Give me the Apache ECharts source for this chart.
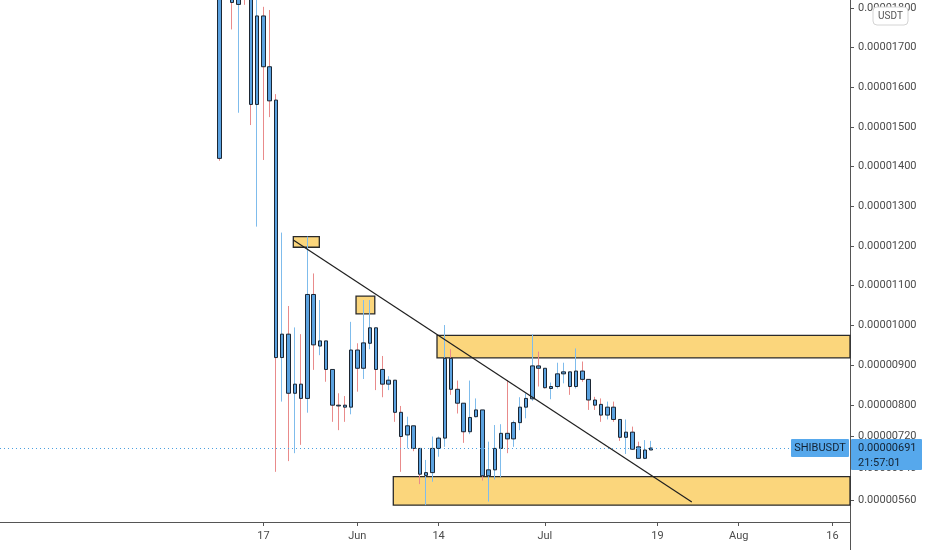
<!DOCTYPE html>
<html>
<head>
<meta charset="utf-8">
<title>SHIBUSDT</title>
<script src="https://cdn.jsdelivr.net/npm/echarts@6/dist/echarts.min.js"></script>
<style>
  html, body { margin: 0; padding: 0; background: #fff; }
  #chart { width: 932px; height: 550px; }
</style>
</head>
<body>
<div id="chart"></div>
<script>
// prices are in units of 0.00000001 USDT, x = day number (0 = 2021-05-10)
// [open, close, low, high]
var candles = [
  [2450, 1421, 1415, 2700], [1950, 2000, 1860, 2150], [1950, 1814, 1746, 2050],
  [1809, 1900, 1536, 2000], [1900, 1850, 1808, 1950], [1880, 1557, 1505, 1950],
  [1557, 1780, 1249, 1850], [1780, 1652, 1417, 1803], [1652, 1566, 1525, 1795],
  [1568, 919, 631, 1583],   [919, 978, 808, 1234],    [978, 829, 658, 1049],
  [829, 852, 678, 995],     [852, 816, 699, 978],     [816, 1078, 780, 1224],
  [1078, 951, 888, 1131],   [948, 961, 925, 1064],    [961, 889, 858, 961],
  [889, 799, 757, 889],     [799, 797, 736, 829],     [799, 794, 757, 822],
  [794, 938, 776, 1009],    [938, 892, 833, 955],     [892, 956, 865, 1064],
  [955, 994, 940, 1064],    [994, 889, 837, 994],     [889, 852, 819, 923],
  [852, 862, 837, 872],     [862, 781, 757, 862],     [781, 720, 631, 797],
  [724, 747, 690, 770],     [747, 690, 683, 747],     [690, 625, 600, 690],
  [622, 629, 547, 661],     [629, 690, 606, 720],     [690, 716, 669, 720],
  [716, 917, 694, 1001],    [917, 839, 825, 940],     [839, 804, 778, 861],
  [804, 732, 704, 804],     [732, 768, 726, 861],     [770, 787, 768, 816],
  [787, 621, 609, 787],     [621, 636, 556, 707],     [636, 690, 612, 749],
  [690, 728, 617, 751],     [728, 714, 678, 862],     [714, 755, 694, 760],
  [755, 794, 736, 819],     [794, 816, 766, 829],     [815, 898, 810, 978],
  [898, 892, 846, 934],     [892, 843, 841, 892],     [841, 846, 814, 856],
  [846, 878, 841, 906],     [878, 883, 854, 906],     [883, 846, 825, 883],
  [846, 885, 841, 942],     [885, 864, 858, 909],     [864, 812, 787, 864],
  [812, 799, 787, 820],     [801, 774, 757, 816],     [774, 794, 763, 808],
  [794, 763, 757, 808],     [763, 718, 709, 763],     [718, 731, 676, 763],
  [731, 688, 686, 745],     [694, 665, 665, 707],     [665, 686, 663, 711],
  [686, 691, 686, 709]
];

var tickDays = [7, 22, 35, 52, 70, 83, 98];
var tickLabels = ['17', 'Jun', '14', 'Jul', '19', 'Aug', '16'];
var priceTicks = [560, 640, 720, 800, 900, 1000, 1100, 1200, 1300, 1400, 1500, 1600, 1700, 1800];

var lastPrice = 691;
var countdown = '21:57:01';
var symbolName = 'SHIBUSDT';

var xMin = -35.14, xMax = 100.8;
var yMin = 504.55, yMax = 1820.2;

// drawn zones: [fromDay, toDay, lowPrice, highPrice]
var zones = [
  [11.77, 15.93, 1197, 1224],
  [21.8, 24.8, 1029, 1074],
  [34.75, xMax, 918, 975],
  [27.76, xMax, 547, 619]
];
// trend line: [day, price] -> [day, price]
var trendLine = [[11.76, 1215], [75.5, 555]];

var bodyFill = '#5ba2e0', bodyBorder = '#1b2633';
var wickUp = '#7fbcec', wickDown = '#e98b8b';
var axisColor = '#555', textColor = '#4b4b4b';
var labelBlue = '#56a8ec';

var wickData = candles.map(function (c, i) { return [i, c[0], c[1], c[2], c[3]]; });
var bodyData = candles.map(function (c, i) {
  return [i, c[0], c[1], Math.min(c[0], c[1]), Math.max(c[0], c[1])];
});

var chart = echarts.init(document.getElementById('chart'));

chart.setOption({
  animation: false,
  backgroundColor: '#fff',
  textStyle: { fontFamily: 'Roboto' },
  grid: { left: 0, right: 82, top: 0, bottom: 28, containLabel: false, outerBoundsMode: 'none' },
  xAxis: {
    type: 'value',
    min: xMin,
    max: xMax,
    splitLine: { show: false },
    axisLine: { show: true, onZero: false, lineStyle: { color: axisColor, width: 1 } },
    axisTick: { show: true, length: 4, customValues: tickDays, lineStyle: { color: axisColor } },
    axisLabel: {
      customValues: tickDays,
      color: textColor,
      fontSize: 11,
      margin: 9,
      formatter: function (v) { return tickLabels[tickDays.indexOf(v)]; }
    }
  },
  yAxis: {
    type: 'value',
    position: 'right',
    min: yMin,
    max: yMax,
    scale: true,
    splitLine: { show: false },
    axisLine: { show: true, onZero: false, lineStyle: { color: axisColor, width: 1 } },
    axisTick: { show: true, length: 4, customValues: priceTicks, lineStyle: { color: axisColor } },
    axisLabel: {
      customValues: priceTicks,
      color: textColor,
      fontSize: 11,
      margin: 8,
      formatter: function (v) { return (v * 1e-8).toFixed(8); }
    }
  },
  series: [
    {
      name: 'wicks',
      type: 'candlestick',
      encode: { x: 0, y: [1, 2, 3, 4] },
      data: wickData,
      barWidth: 1,
      itemStyle: {
        color: wickUp, color0: wickDown,
        borderColor: wickUp, borderColor0: wickDown, borderColorDoji: wickDown,
        borderWidth: 1
      },
      markArea: {
        silent: true,
        itemStyle: { color: '#fbd67c', borderColor: '#2a2a2a', borderWidth: 1.3 },
        data: zones.map(function (z) {
          return [{ coord: [z[0], z[3]] }, { coord: [z[1], z[2]] }];
        })
      }
    },
    {
      name: symbolName,
      type: 'candlestick',
      encode: { x: 0, y: [1, 2, 3, 4] },
      data: bodyData,
      barWidth: 4,
      itemStyle: {
        color: bodyFill, color0: bodyFill,
        borderColor: bodyBorder, borderColor0: bodyBorder, borderColorDoji: bodyBorder,
        borderWidth: 1
      },
      markLine: {
        silent: true,
        symbol: ['none', 'none'],
        label: { show: false },
        data: [
          [
            { coord: trendLine[0], lineStyle: { color: '#1f1f1f', width: 1.2, type: 'solid' } },
            { coord: trendLine[1] }
          ],
          { yAxis: lastPrice, lineStyle: { color: '#4a9fe0', width: 1, type: [1, 3] } }
        ]
      }
    }
  ]
});

// price labels on the right and the currency badge
var py = chart.convertToPixel({ yAxisIndex: 0 }, lastPrice);
chart.setOption({
  graphic: [
    { type: 'rect', z: 100, shape: { x: 791, y: py - 9, width: 58, height: 18, r: 1 }, style: { fill: labelBlue } },
    { type: 'text', z: 101, x: 820, y: py, style: { text: symbolName, fill: '#132232', font: '11px Roboto', align: 'center', verticalAlign: 'middle' } },
    { type: 'rect', z: 100, shape: { x: 851, y: py - 9, width: 71, height: 31, r: 1 }, style: { fill: labelBlue } },
    { type: 'text', z: 101, x: 858, y: py, style: { text: (lastPrice * 1e-8).toFixed(8), fill: '#132232', font: '11px Roboto', align: 'left', verticalAlign: 'middle' } },
    { type: 'text', z: 101, x: 858, y: py + 15, style: { text: countdown, fill: '#132232', font: '11px Roboto', align: 'left', verticalAlign: 'middle' } },
    { type: 'rect', z: 100, shape: { x: 873, y: 7, width: 35, height: 18, r: 4 }, style: { fill: '#fff', stroke: '#d4d4d4', lineWidth: 1 } },
    { type: 'text', z: 101, x: 890.5, y: 16, style: { text: 'USDT', fill: '#555', font: '10px Roboto', align: 'center', verticalAlign: 'middle' } },
    { type: 'line', z: 100, shape: { x1: 850.5, y1: 522, x2: 850.5, y2: 550 }, style: { stroke: axisColor, lineWidth: 1 } }
  ]
});
</script>
</body>
</html>
